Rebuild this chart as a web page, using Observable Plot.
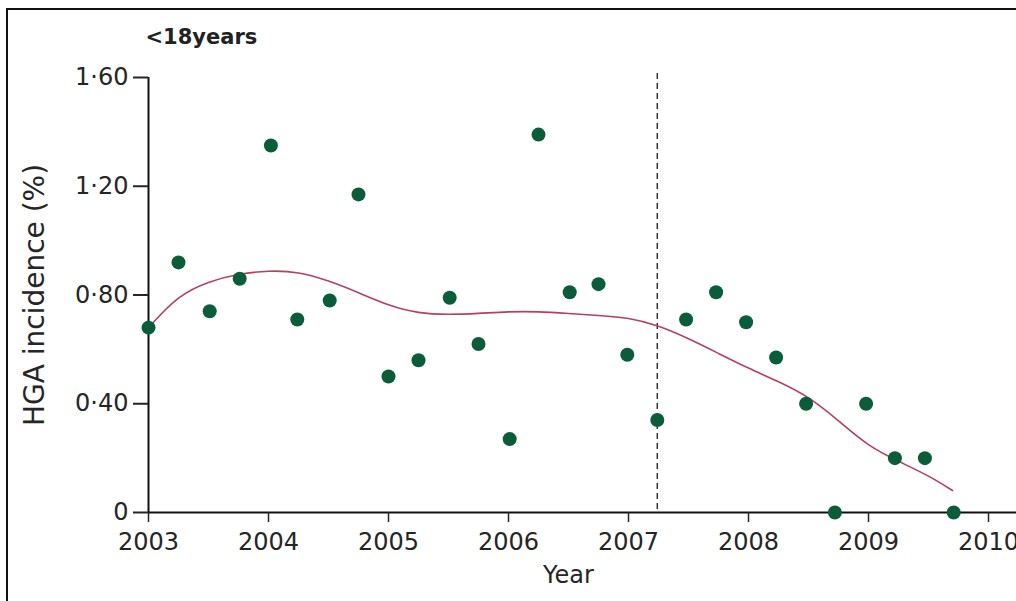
<!DOCTYPE html>
<html>
<head>
<meta charset="utf-8">
<script src="https://cdn.jsdelivr.net/npm/d3@7"></script>
<script src="https://cdn.jsdelivr.net/npm/@observablehq/plot@0.6"></script>
<style>
  html, body { margin: 0; padding: 0; background: #fff; }
  #wrap { position: relative; width: 1016px; height: 601px; overflow: hidden; }
  #frame {
    position: absolute; left: 6px; top: 8px; right: 0; bottom: 0;
    border-top: 2.5px solid #111; border-left: 2.5px solid #111;
    pointer-events: none;
  }
</style>
</head>
<body>
<div id="wrap"><div id="frame"></div></div>
<script>
// Quarterly HGA incidence, patients under 18 years (time in decimal years)
const quarter = [
  2003.00, 2003.25, 2003.51, 2003.76,
  2004.02, 2004.24, 2004.51, 2004.75,
  2005.00, 2005.25, 2005.51, 2005.75,
  2006.01, 2006.25, 2006.51, 2006.75,
  2006.99, 2007.24, 2007.48, 2007.73,
  2007.98, 2008.23, 2008.48, 2008.72,
  2008.98, 2009.22, 2009.47, 2009.71
];
const incidence = [
  0.68, 0.92, 0.74, 0.86,
  1.35, 0.71, 0.78, 1.17,
  0.50, 0.56, 0.79, 0.62,
  0.27, 1.39, 0.81, 0.84,
  0.58, 0.34, 0.71, 0.81,
  0.70, 0.57, 0.40, 0.00,
  0.40, 0.20, 0.20, 0.00
];

// Smoothed trend through the series
const fitYear = [
  2003.00, 2003.25, 2003.50, 2003.75,
  2004.00, 2004.25, 2004.50, 2004.75,
  2005.00, 2005.25, 2005.50, 2005.75,
  2006.00, 2006.25, 2006.50, 2006.75,
  2007.00, 2007.25, 2007.50, 2007.75,
  2008.00, 2008.25, 2008.50, 2008.75,
  2009.00, 2009.25, 2009.50, 2009.70
];
const fitValue = [
  0.68, 0.80, 0.85, 0.878,
  0.89, 0.886, 0.853, 0.809,
  0.761, 0.732, 0.728, 0.732,
  0.739, 0.739, 0.732, 0.725,
  0.717, 0.688, 0.64, 0.585,
  0.53, 0.482, 0.427, 0.338,
  0.243, 0.188, 0.136, 0.081
];

const interventionYear = 2007.24;
const xTicks = [2003, 2004, 2005, 2006, 2007, 2008, 2009, 2010];
const yTicks = [0, 0.4, 0.8, 1.2, 1.6];

const title = "<18years";
const yLabel = "HGA incidence (%)";
const xLabel = "Year";

const points = quarter.map((q, i) => ({year: q, value: incidence[i]}));
const trend = fitYear.map((q, i) => ({year: q, value: fitValue[i]}));

const fmtY = d => d === 0 ? "0" : d.toFixed(2).replace(".", "·");

const chart = Plot.plot({
  width: 1016,
  height: 601,
  marginLeft: 148,
  marginRight: 28,
  marginTop: 77,
  marginBottom: 89,
  style: {fontFamily: "'DejaVu Sans', sans-serif", fontSize: "24px", color: "#262626", background: "transparent"},
  x: {domain: [2003, 2010]},
  y: {domain: [0, 1.6]},
  marks: [
    Plot.ruleX([interventionYear], {stroke: "#333", strokeWidth: 1.5, strokeDasharray: "6,4", insetTop: -4}),
    Plot.ruleX([2003], {stroke: "#111", strokeWidth: 2}),
    Plot.ruleY([0], {stroke: "#111", strokeWidth: 2, insetRight: -28}),
    Plot.axisX({ticks: xTicks, tickFormat: "d", tickSize: 10, tickPadding: 10, label: null, strokeWidth: 1.5}),
    Plot.axisY({ticks: yTicks, tickFormat: fmtY, tickSize: 15, tickPadding: 5, label: null, strokeWidth: 2}),
    Plot.line(trend, {x: "year", y: "value", curve: "basis", stroke: "#b8405c", strokeWidth: 1.6}),
    Plot.dot(points, {x: "year", y: "value", r: 7, fill: "#0b5d3a"}),
    Plot.text([title], {frameAnchor: "top-left", dx: -3, dy: -34, textAnchor: "start", lineAnchor: "bottom", fontWeight: "bold", fontSize: 21, fill: "#222"}),
    Plot.text([yLabel], {frameAnchor: "left", textAnchor: "middle", rotate: -90, dx: -113, fontSize: 28}),
    Plot.text([xLabel], {frameAnchor: "bottom", textAnchor: "middle", dy: 70, fontSize: 24})
  ]
});

document.getElementById("wrap").prepend(chart);
</script>
</body>
</html>
